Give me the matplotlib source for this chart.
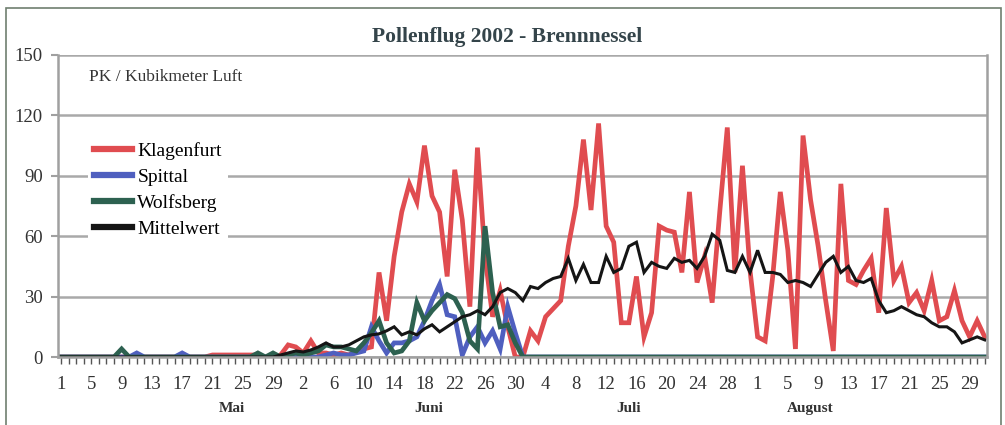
import pandas as pd
import matplotlib
matplotlib.use("Agg")
import matplotlib.pyplot as plt
from matplotlib.patches import Rectangle

plt.rcParams["font.family"] = ["Liberation Serif", "DejaVu Serif"]

# Daily pollen counts, 1 May - 31 Aug 2002 (PK / m3)
days = pd.date_range("2002-05-01", "2002-08-31", freq="D")

klagenfurt = [
    # Mai
    0, 0, 0, 0, 0, 0, 0, 0, 0, 0, 0, 0, 0, 0, 0, 0, 0, 0, 0, 0,
    1, 1, 1, 1, 1, 1, 1, 0, 0, 1, 6,
    # Juni
    5, 2, 8, 2, 2, 1, 2, 1, 3, 4, 5, 42, 18, 50, 72, 86, 77, 105, 80, 72,
    40, 93, 68, 25, 104, 50, 20, 33, 15, 0,
    # Juli
    0, 13, 8, 20, 24, 28, 55, 75, 108, 73, 116, 65, 57, 17, 17, 40, 10, 22, 65, 63,
    62, 42, 82, 37, 50, 27, 72, 114, 42, 95, 43,
    # August
    10, 8, 40, 82, 53, 4, 110, 78, 55, 28, 3, 86, 38, 36, 43, 49, 22, 74, 38, 45,
    27, 32, 23, 38, 18, 20, 33, 18, 10, 18, 10,
]

spittal = [
    0, 0, 0, 0, 0, 0, 0, 0, 0, 0, 2, 0, 0, 0, 0, 0, 2, 0, 0, 0,
    0, 0, 0, 0, 0, 0, 0, 0, 0, 0, 0,
    0, 0, 0, 0, 1, 2, 1, 1, 2, 3, 15, 8, 2, 7, 7, 8, 10, 18, 28, 36,
    21, 20, 1, 10, 15, 7, 13, 4, 25, 12,
    0, 0, 0, 0, 0, 0, 0, 0, 0, 0, 0, 0, 0, 0, 0, 0, 0, 0, 0, 0,
    0, 0, 0, 0, 0, 0, 0, 0, 0, 0, 0,
    0, 0, 0, 0, 0, 0, 0, 0, 0, 0, 0, 0, 0, 0, 0, 0, 0, 0, 0, 0,
    0, 0, 0, 0, 0, 0, 0, 0, 0, 0, 0,
]

wolfsberg = [
    0, 0, 0, 0, 0, 0, 0, 0, 4, 0, 0, 0, 0, 0, 0, 0, 0, 0, 0, 0,
    0, 0, 0, 0, 0, 0, 2, 0, 2, 0, 1,
    2, 1, 2, 3, 6, 5, 5, 4, 3, 7, 12, 18, 7, 2, 3, 8, 27, 18, 23, 27,
    31, 29, 22, 8, 4, 65, 32, 15, 16, 7,
    0, 0, 0, 0, 0, 0, 0, 0, 0, 0, 0, 0, 0, 0, 0, 0, 0, 0, 0, 0,
    0, 0, 0, 0, 0, 0, 0, 0, 0, 0, 0,
    0, 0, 0, 0, 0, 0, 0, 0, 0, 0, 0, 0, 0, 0, 0, 0, 0, 0, 0, 0,
    0, 0, 0, 0, 0, 0, 0, 0, 0, 0, 0,
]

mittelwert = [
    0, 0, 0, 0, 0, 0, 0, 0, 0, 0, 0, 0, 0, 0, 0, 0, 0, 0, 0, 0,
    0, 0, 0, 0, 0, 0, 0, 0, 0, 1, 2,
    3, 2.5, 3.5, 5, 7, 5, 5, 6, 8, 10, 11, 11.5, 13, 15, 11, 12.5, 11, 14, 16, 12.5,
    15, 17.5, 20, 21, 23, 21, 25, 32, 34, 32,
    28, 35, 34, 37, 39, 40, 49, 38, 46, 37, 37, 50, 42, 44, 55, 57, 42, 47, 45, 44,
    49, 47, 48, 44, 50, 61, 58, 43, 42, 50, 42,
    53, 42, 42, 41, 37, 38, 37, 35, 41, 47, 50, 42, 45, 38, 37, 39, 28, 22, 23, 25,
    23, 21, 20, 17, 15, 15, 12.5, 7, 8.5, 10, 8.5,
]

series_names = ["Klagenfurt", "Spittal", "Wolfsberg", "Mittelwert"]
series_colors = ["#e04c50", "#4f5fbf", "#2d6150", "#151515"]
series_widths = [3.4, 3.4, 3.4, 2.2]

months = ["Mai", "Juni", "Juli", "August"]
month_label_pos = [22.5, 48.5, 75, 99]  # day index under which the month name sits

y_ticks = [0, 30, 60, 90, 120, 150]

fig = plt.figure(figsize=(10.05, 4.25), dpi=100)
ax = fig.add_axes([58 / 1005, 1 - 357 / 425, 929 / 1005, 302 / 425])

x = list(range(len(days)))
for data, name, col, lw in zip([klagenfurt, spittal, wolfsberg, mittelwert],
                               series_names, series_colors, series_widths):
    ax.plot(x, data, color=col, lw=lw, label=name, solid_joinstyle="miter")

ax.set_xlim(-0.4, len(days) - 0.7)
ax.set_ylim(0, 150)

# gridlines + axes
ax.set_yticks(y_ticks)
ax.yaxis.grid(True, color="#a9a9a9", lw=1.8)
ax.set_axisbelow(True)
for side in ["left", "right", "bottom"]:
    ax.spines[side].set_color("#a0a0a0")
    ax.spines[side].set_linewidth(1.8)
ax.spines["top"].set_visible(False)

ax.set_xticks(x, minor=True)
major = x[::4]
ax.set_xticks(major)
ax.set_xticklabels([str(d) for d in days.day[::4]])
ax.tick_params(axis="x", which="both", length=5, width=1, color="#555555",
               labelsize=13.5, pad=9, labelcolor="#333333")
ax.tick_params(axis="y", length=5, width=1.5, color="#a0a0a0",
               labelsize=13.5, pad=6, labelcolor="#333333")

for name, pos in zip(months, month_label_pos):
    ax.text(pos, -0.17, name, transform=ax.get_xaxis_transform(),
            ha="center", va="center", fontsize=11, fontweight="bold", color="#333333")

ax.text(0.033, 0.927, "PK / Kubikmeter Luft", transform=ax.transAxes,
        fontsize=12.5, color="#333333", va="center")

fig.text(0.505, 0.912, "Pollenflug 2002 - Brennnessel", ha="center", va="center",
         fontsize=15.5, fontweight="bold", color="#34444a")

leg = ax.legend(loc="upper left", bbox_to_anchor=(0.032, 0.73), frameon=True,
                fontsize=14, handlelength=2.0, handletextpad=0.25,
                labelspacing=0.42, borderpad=0.3, borderaxespad=0)
leg.get_frame().set_facecolor("white")
leg.get_frame().set_edgecolor("none")
leg.get_frame().set_alpha(1)
for line in leg.get_lines():
    line.set_linewidth(4.5)

# outer frame of the chart
fig.patches.append(Rectangle((6 / 1005, -0.05), 995 / 1005, 1.05 - 8 / 425,
                             transform=fig.transFigure, fill=False,
                             edgecolor="#6f7f70", lw=1.2))

fig.savefig("out.png", dpi=100)
